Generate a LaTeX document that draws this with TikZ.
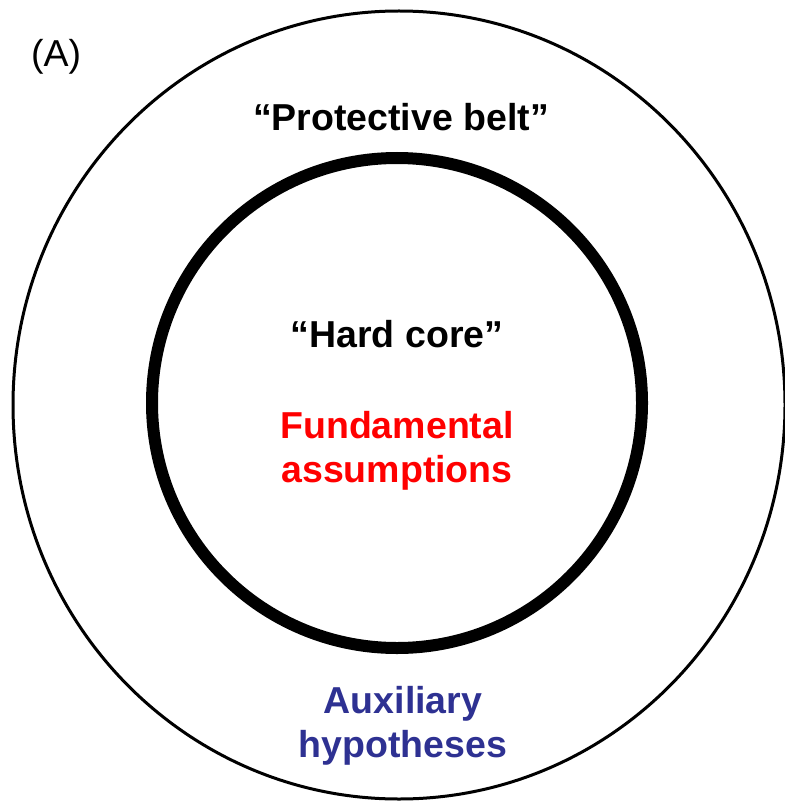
\documentclass[tikz,border=0pt]{standalone}
\usepackage{fontspec}
\setmainfont{Liberation Sans}
\usepackage{tikz}
\usetikzlibrary{positioning}
\definecolor{auxblue}{RGB}{46,49,146}
\definecolor{coreRed}{RGB}{255,0,0}

\tikzset{
  lbl/.style={font=\fontsize{37.5}{44}\selectfont\bfseries, align=center, anchor=base, inner sep=0pt},
  panel/.style={font=\fontsize{37.5}{44}\selectfont, anchor=base west, inner sep=0pt}
}

\begin{document}
\begin{tikzpicture} [x=1pt, y=-1pt]

\useasboundingbox (0,0) rectangle (784,802);
%\draw [help lines, step=50](0,0) grid (784,802);

% belt and core
\draw [line width=3pt] (399,405) ellipse [x radius=386, y radius=394];
\draw [line width=12pt] (397,403) circle [radius=245];

% base of a two-line node is the last line
\node [panel] (panelA) at (31,67) {(A)};
\node [lbl] (belt) at (401,131) {“Protective belt”};
\node [lbl] (core) at (397,347) {“Hard core”};
\node [lbl, text=coreRed] (fund) at (397,482) {Fundamental\\assumptions};
\node [lbl, text=auxblue] (aux) at (403,757) {Auxiliary\\hypotheses};

\end{tikzpicture}
\end{document}
